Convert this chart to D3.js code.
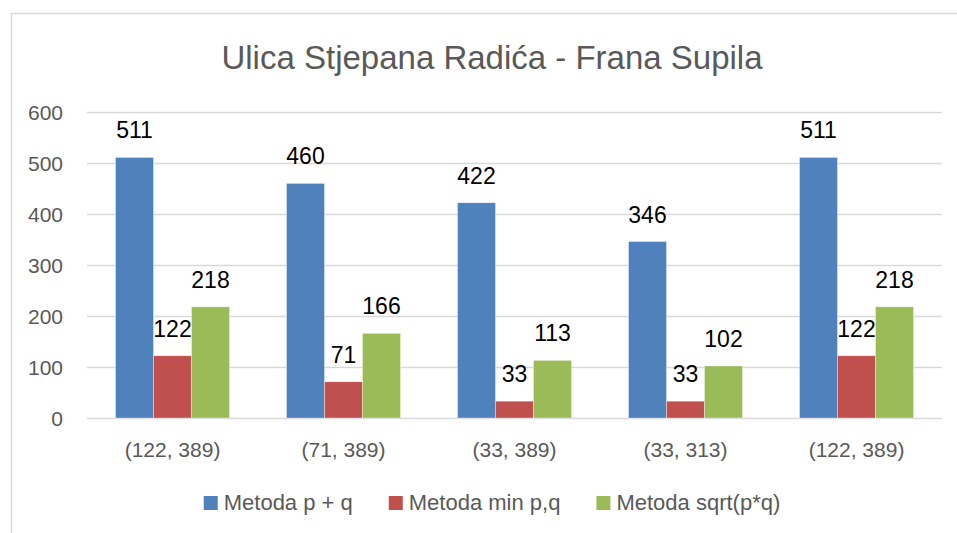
<!DOCTYPE html>
<html>
<head>
<meta charset="utf-8">
<script src="https://cdn.jsdelivr.net/npm/d3@7"></script>
<style>
  body { margin: 0; background: #fff; }
  text { font-family: "Liberation Sans", Arial, sans-serif; }
</style>
</head>
<body>
<script>
// data
var categories = ["(122, 389)", "(71, 389)", "(33, 389)", "(33, 313)", "(122, 389)"];
var seriesNames = ["Metoda p + q", "Metoda min p,q", "Metoda sqrt(p*q)"];
var valsPQ = [511, 460, 422, 346, 511];
var valsMin = [122, 71, 33, 33, 122];
var valsSqrt = [218, 166, 113, 102, 218];
var yTicks = [0, 100, 200, 300, 400, 500, 600];
var titleText = "Ulica Stjepana Radića - Frana Supila";

var colors = ["#4F81BD", "#C0504D", "#9BBB59"];
var allVals = [valsPQ, valsMin, valsSqrt];

// size
var w = 957, h = 533;
var pdL = 87, pdR = 942, pdT = 112, pdB = 418;
var midX = 492;

var svg = d3.select("body").append("svg")
  .attr("width", w).attr("height", h);

// chart frame
svg.append("rect")
  .attr("x", 11.5).attr("y", 13.5)
  .attr("width", 980).attr("height", 560)
  .attr("fill", "none").attr("stroke", "#D9D9D9").attr("stroke-width", 1.5);

// scales
var x0 = d3.scaleBand().domain(d3.range(categories.length))
  .range([pdL, pdR]).paddingInner(1/3).paddingOuter(1/6);
var x1 = d3.scaleBand().domain(d3.range(seriesNames.length))
  .range([0, x0.bandwidth()]);
var y = d3.scaleLinear().domain([0, 600]).range([pdB, pdT]);

// grid lines
svg.append("g").selectAll("line").data(yTicks).enter().append("line")
  .attr("x1", pdL).attr("x2", pdR)
  .attr("y1", function(d) { return Math.round(y(d)) + 0.5; })
  .attr("y2", function(d) { return Math.round(y(d)) + 0.5; })
  .attr("stroke", "#D9D9D9").attr("stroke-width", 1.3);

// y axis labels
var axisY = d3.axisLeft(y).tickValues(yTicks).tickSize(0).tickPadding(0);
var gy = svg.append("g").attr("transform", "translate(63,0)").call(axisY);
gy.select(".domain").remove();
gy.selectAll("text")
  .attr("font-size", 21).attr("fill", "#595959")
  .attr("font-family", "Liberation Sans, Arial, sans-serif")
  .attr("dy", "0.36em");

// x axis labels
var axisX = d3.axisBottom(x0).tickFormat(function(i) { return categories[i]; })
  .tickSize(0).tickPadding(0);
var gx = svg.append("g").attr("transform", "translate(0,442)").call(axisX);
gx.select(".domain").remove();
gx.selectAll("text")
  .attr("font-size", 21).attr("fill", "#595959")
  .attr("font-family", "Liberation Sans, Arial, sans-serif")
  .attr("dy", "0.71em");

// bars
var rows = [];
for (var i = 0; i < categories.length; i++) {
  for (var s = 0; s < seriesNames.length; s++) {
    rows.push({ cat: i, ser: s, val: allVals[s][i] });
  }
}

svg.append("g").selectAll("rect").data(rows).enter().append("rect")
  .attr("x", function(d) { return x0(d.cat) + x1(d.ser); })
  .attr("y", function(d) { return y(d.val); })
  .attr("width", x1.bandwidth())
  .attr("height", function(d) { return y(0) - y(d.val); })
  .attr("fill", function(d) { return colors[d.ser]; })
  .attr("stroke", "#fff").attr("stroke-width", 0.6).attr("stroke-opacity", 0.6);

// data labels
svg.append("g").selectAll("text").data(rows).enter().append("text")
  .attr("x", function(d) { return x0(d.cat) + x1(d.ser) + x1.bandwidth() / 2; })
  .attr("y", function(d) { return y(d.val) - 19; })
  .attr("text-anchor", "middle")
  .attr("font-size", 23).attr("fill", "#000")
  .text(function(d) { return d.val; });

// title
svg.append("text")
  .attr("x", midX).attr("y", 69)
  .attr("text-anchor", "middle")
  .attr("font-size", 33).attr("fill", "#595959")
  .text(titleText);

// legend
var leg = svg.append("g");
var lx = 0;
seriesNames.forEach(function(name, s) {
  var g = leg.append("g").attr("transform", "translate(" + lx + ",0)");
  g.append("rect").attr("x", 0).attr("y", 496).attr("width", 14).attr("height", 14)
    .attr("fill", colors[s]);
  var t = g.append("text").attr("x", 20).attr("y", 510)
    .attr("font-size", 22).attr("fill", "#595959").text(name);
  lx += 20 + t.node().getComputedTextLength() + 36;
});
var legW = lx - 36;
leg.attr("transform", "translate(" + (midX - legW / 2) + ",0)");
</script>
</body>
</html>
